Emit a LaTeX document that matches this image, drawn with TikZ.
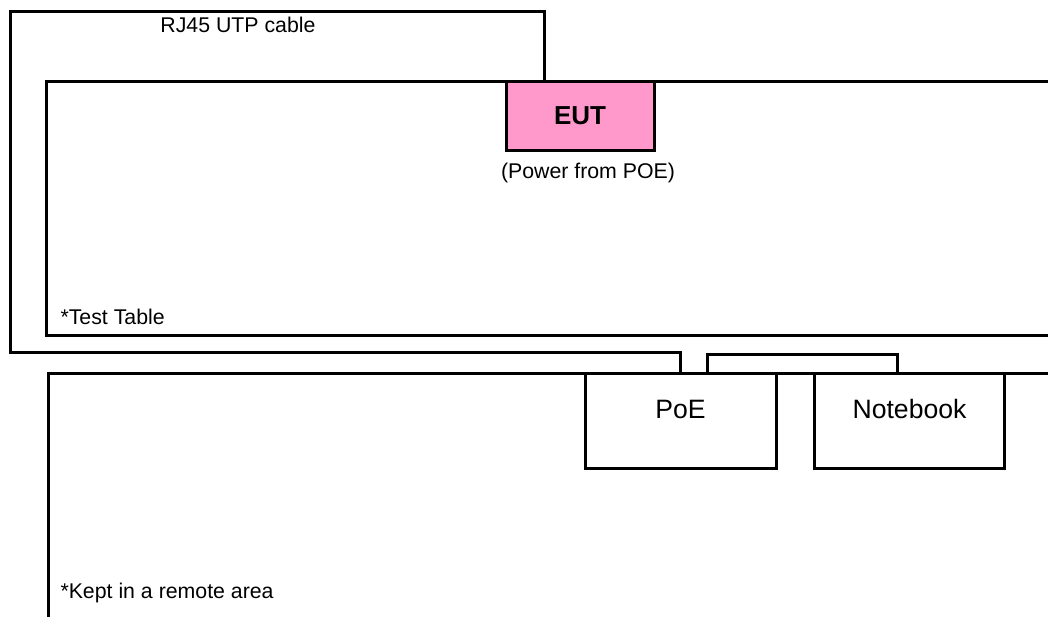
\documentclass[tikz,border=0pt]{standalone}
\usepackage{fontspec}
\setmainfont{Liberation Sans}
\usetikzlibrary{calc}
\definecolor{eutpink}{RGB}{255,153,204}
\begin{document}
\begin{tikzpicture}[x=1pt,y=-1pt,line width=3pt,
  txt/.style={inner sep=0pt,font=\fontsize{21.3}{24}\selectfont},
  devtxt/.style={inner sep=0pt,font=\fontsize{26.6}{30}\selectfont},
  devbox/.style={draw,rectangle,inner sep=0pt,minimum width=191pt,minimum height=95pt},
  eutbox/.style={draw,fill=eutpink,rectangle,inner sep=0pt,minimum width=148pt,minimum height=69pt,font=\fontsize{26}{28}\selectfont\bfseries},
  area/.style={draw,line join=miter}]
\useasboundingbox (0,0) rectangle (1048,616);
\clip (0,0) rectangle (1048,616);
\fill[white] (0,0) rectangle (1048,616);
% areas
\draw[area] (1070,81) -- (46,81) -- (46,335) -- (1070,335);
\draw[area] (1070,373) -- (48,373) -- (48,640);
% devices
\node[eutbox] (eut) at (580,116) {EUT};
\node[devbox] (poe) at (680.5,420.5) {};
\node[devbox,minimum width=190pt] (nb) at (909,420.5) {};
\node[devtxt] (poelbl) at (680.5,409) {PoE};
\node[devtxt] (nblbl) at (909.5,409) {Notebook};
% labels
\node[txt] (cablelbl) at (238,25) {RJ45 UTP cable};
\node[txt] (powlbl) at (588,173) {(Power from POE)};
\node[txt,anchor=west] (ttlbl) at (59,317) {*Test Table};
\node[txt,anchor=west] (ralbl) at (59,593) {*Kept in a remote area};
% cable
\coordinate (cA) at ($(eut.north west)+(40,0)$);
\draw (cA) |- (10,11) -- (10,352) -| (poe.north);
% link poe - notebook
\coordinate (pB) at ($(poe.north)+(27,0)$);
\coordinate (nB) at ($(nb.north)+(-12,0)$);
\draw (pB) -- ++(0,-17) -| (nB);
\end{tikzpicture}
\end{document}
